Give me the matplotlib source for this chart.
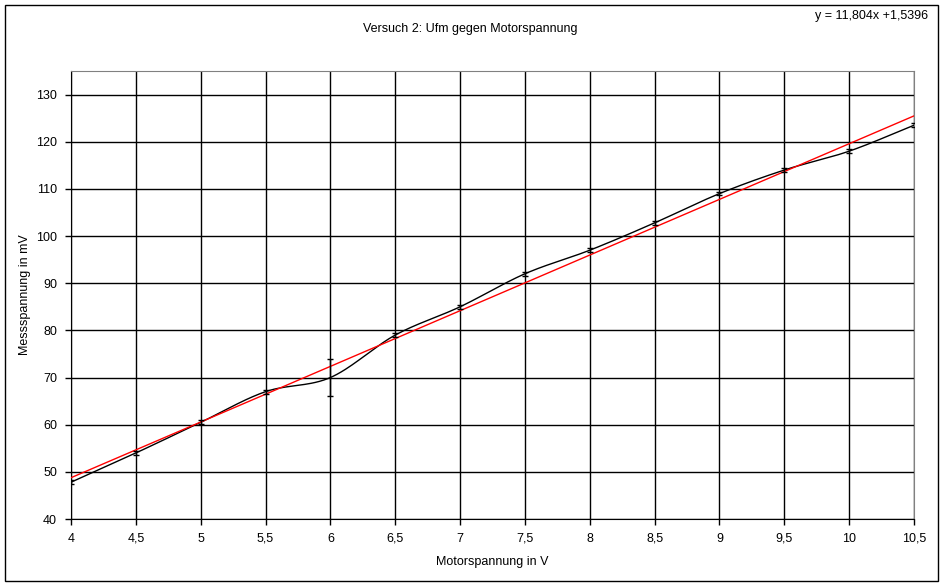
import numpy as np
import matplotlib
matplotlib.use("Agg")
import matplotlib.pyplot as plt
from matplotlib.patches import Rectangle

motor_v = [4.0, 4.5, 5.0, 5.5, 6.0, 6.5, 7.0, 7.5, 8.0, 8.5, 9.0, 9.5, 10.0, 10.5]
mess_mv = [47.8, 54.0, 60.5, 67.0, 70.0, 79.0, 85.0, 92.0, 97.0, 102.8, 109.0, 114.0, 118.0, 123.5]
err_mv = [0.4, 0.4, 0.4, 0.4, 4.0, 0.4, 0.4, 0.4, 0.4, 0.4, 0.4, 0.4, 0.4, 0.4]
slope = 11.804
intercept = 1.5396
x_ticks = [4, 4.5, 5, 5.5, 6, 6.5, 7, 7.5, 8, 8.5, 9, 9.5, 10, 10.5]
x_tick_labels = ["4", "4,5", "5", "5,5", "6", "6,5", "7", "7,5", "8", "8,5", "9", "9,5", "10", "10,5"]
y_ticks = [40, 50, 60, 70, 80, 90, 100, 110, 120, 130]

plt.rcParams['font.family'] = ['Liberation Sans', 'DejaVu Sans']
plt.rcParams['font.size'] = 9

W, H = 944, 587
fig = plt.figure(figsize=(W / 100, H / 100), dpi=100)
fig.patch.set_facecolor('white')
fig.patches.append(Rectangle((5 / W, 1 - 581 / H), (938 - 5) / W, (581 - 5) / H,
                             transform=fig.transFigure, fill=False,
                             edgecolor='black', linewidth=1))

ax = fig.add_axes([71 / W, 1 - 519 / H, (914 - 71) / W, (519 - 71) / H])


def catmull_rom(xs, ys, n=30):
    xs = np.asarray(xs, float)
    ys = np.asarray(ys, float)
    px = np.concatenate([[2 * xs[0] - xs[1]], xs, [2 * xs[-1] - xs[-2]]])
    py = np.concatenate([[2 * ys[0] - ys[1]], ys, [2 * ys[-1] - ys[-2]]])
    outx, outy = [], []
    for i in range(1, len(px) - 2):
        t = np.linspace(0, 1, n, endpoint=False)
        for p, out in ((px, outx), (py, outy)):
            p0, p1, p2, p3 = p[i - 1], p[i], p[i + 1], p[i + 2]
            m1 = (p2 - p0) / 2
            m2 = (p3 - p1) / 2
            h00 = 2 * t**3 - 3 * t**2 + 1
            h10 = t**3 - 2 * t**2 + t
            h01 = -2 * t**3 + 3 * t**2
            h11 = t**3 - t**2
            out.extend(h00 * p1 + h10 * m1 + h01 * p2 + h11 * m2)
    outx.append(xs[-1])
    outy.append(ys[-1])
    return np.array(outx), np.array(outy)


sx, sy = catmull_rom(motor_v, mess_mv)
ax.plot(sx, sy, color='black', linewidth=1, zorder=3)
ax.errorbar(motor_v, mess_mv, yerr=err_mv, fmt='none', ecolor='black',
            elinewidth=1, capsize=2.5, capthick=1, zorder=4)

xl = np.array([motor_v[0], motor_v[-1]])
ax.plot(xl, slope * xl + intercept, color='red', linewidth=1, zorder=3)

ax.set_xlim(4, 10.5)
ax.set_ylim(40, 135)
ax.set_xticks(x_ticks)
ax.set_xticklabels(x_tick_labels)
ax.set_yticks(y_ticks)
ax.grid(True, color='black', linewidth=1, zorder=1)
ax.set_axisbelow(True)
ax.tick_params(direction='out', length=4, width=1, colors='black', pad=6)
for s in ('top', 'right'):
    ax.spines[s].set_color('#808080')
for s in ('left', 'bottom'):
    ax.spines[s].set_color('black')

ax.set_xlabel('Motorspannung in V', labelpad=8)
ax.set_ylabel('Messspannung in mV', labelpad=4)

fig.text(470 / W, 1 - 29 / H, 'Versuch 2: Ufm gegen Motorspannung', ha='center', va='center')
fig.text(928 / W, 1 - 16 / H, 'y = 11,804x +1,5396', ha='right', va='center')

fig.savefig('out.png', dpi=100, facecolor='white')
